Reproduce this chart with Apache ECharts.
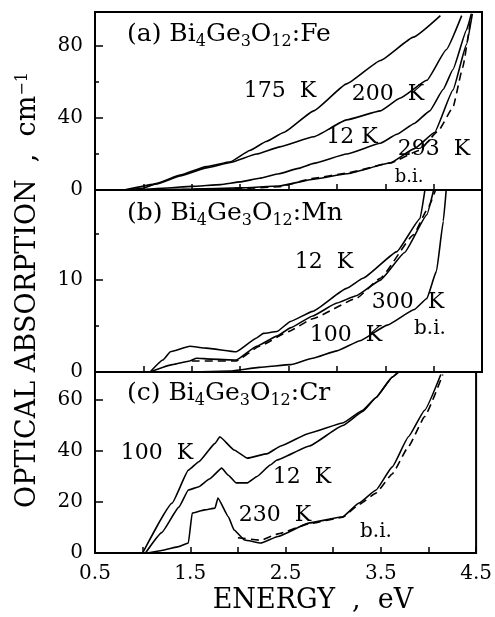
<!DOCTYPE html>
<html>
<head>
<meta charset="utf-8">
<script src="https://cdn.jsdelivr.net/npm/echarts@6.0.0/dist/echarts.min.js"></script>
<style>
html, body { margin: 0; padding: 0; background: #fff; }
#chart { width: 495px; height: 617px; }
</style>
</head>
<body>
<div id="chart"></div>
<script>
// x ticks (eV) - labels only on every other one
var xTicks = [0.5, 1.5, 2.5, 3.5, 4.5];

// (a) Bi4Ge3O12:Fe  [energy eV, absorption cm-1]
var fe175 = [[0.8,0],[1.0,1],[1.14,3.7],[1.38,8.3],[1.65,13],[1.9,15.7],[2.1,22],[2.27,27],[2.45,32],[2.76,44],[3.1,59],[3.45,72],[3.79,85],[4.07,97]];
var fe200 = [[0.8,0],[1.14,3.4],[1.38,7.8],[1.65,12.3],[1.9,15.3],[2.17,20],[2.41,24],[2.76,29.6],[3.1,39],[3.45,44],[3.65,51],[3.93,61],[4.13,78],[4.29,97]];
var fe12 = [[0.9,0],[1.2,1],[1.5,2],[1.8,3],[2.0,4.5],[2.2,6.5],[2.4,9],[2.6,12],[2.76,14.8],[3.1,20],[3.45,26],[3.62,31],[3.8,37],[3.96,44],[4.1,56],[4.2,67],[4.34,89],[4.39,98]];
var fe293 = [[1.0,0],[1.5,0.5],[2.0,1.2],[2.4,2.2],[2.76,6],[3.1,9],[3.55,15],[3.8,23],[4.01,32],[4.2,55.6],[4.34,81],[4.4,98]];
var feBi = [[1.0,0],[1.5,0.3],[2.0,0.8],[2.4,1.8],[2.76,6.5],[3.1,9.4],[3.55,15],[3.85,22],[4.05,33],[4.2,46],[4.3,68],[4.38,94]];

// (b) Bi4Ge3O12:Mn
var mn12 = [[1.07,0],[1.2,1.3],[1.28,2.2],[1.48,2.8],[1.65,2.6],[1.96,2.2],[2.17,3.7],[2.24,4.2],[2.38,4.4],[2.52,5.5],[2.75,6.6],[3.1,9.1],[3.27,10.2],[3.62,13.1],[3.86,16.7],[3.91,19.8]];
var mn300 = [[1.07,0],[1.3,0.8],[1.48,1.2],[1.55,1.5],[1.7,1.4],[1.96,1.3],[2.17,2.8],[2.38,3.9],[2.52,4.8],[2.75,6.1],[3.0,7.5],[3.2,8.3],[3.45,10],[3.7,13],[3.93,17.1],[4.0,19.8]];
var mnBi = [[1.5,1.2],[1.96,1.2],[2.2,2.8],[2.5,4.4],[2.75,5.8],[3.2,8.0],[3.45,10.2],[3.79,14.9],[3.95,18],[4.02,19.8]];
var mn100 = [[1.5,0],[1.9,0.1],[2.2,0.5],[2.52,0.8],[2.75,1.5],[3.0,2.3],[3.24,3.4],[3.52,5.1],[3.8,6.8],[3.93,8],[4.03,11],[4.1,16.4],[4.13,19.8]];

// (c) Bi4Ge3O12:Cr
var cr100 = [[1.0,0],[1.31,19.6],[1.48,32.5],[1.59,35.8],[1.76,43],[1.81,45.6],[1.96,40.4],[2.1,37.2],[2.31,39],[2.45,42],[2.75,47],[3.1,51],[3.31,56],[3.45,61],[3.62,69],[3.68,71]];
var cr12 = [[1.03,0],[1.2,8],[1.38,18],[1.48,24.7],[1.59,26],[1.7,29],[1.83,33.3],[1.9,30.5],[1.98,27.5],[2.1,27.5],[2.2,30],[2.34,34.5],[2.41,36.5],[2.75,42],[3.1,50],[3.31,55.5],[3.45,61],[3.62,69],[3.69,71]];
var cr230 = [[1.05,0],[1.2,1],[1.38,2.5],[1.48,3.9],[1.52,15.7],[1.65,16.9],[1.76,17.6],[1.79,21.6],[1.9,14.2],[1.96,9],[2.07,5.1],[2.24,3.9],[2.42,6.5],[2.75,11.8],[3.1,14.2],[3.27,19.6],[3.45,24.7],[3.62,33.8],[3.79,45.6],[3.96,56],[4.13,70]];
var crBi = [[2.0,6],[2.24,5],[2.42,7.5],[2.75,11.5],[3.1,14],[3.27,19],[3.45,23.5],[3.62,31],[3.79,41.7],[3.96,53.5],[4.15,70]];

var yMax = [99, 19.8, 71];
var yStep = [40, 10, 20];

var FONT = 'DejaVu Serif';
var chart = echarts.init(document.getElementById('chart'));

var grids = [
    { left: 95, right: 13, top: 12, height: 178 },
    { left: 95, right: 13, top: 190, height: 182 },
    { left: 95, right: 13, top: 372, height: 181 }
];
grids.forEach(function (g) {
    g.show = true;
    g.borderColor = '#000';
    g.borderWidth = 2;
    g.backgroundColor = 'transparent';
});

var xAxes = [], yAxes = [];
for (var i = 0; i < 3; i++) {
    xAxes.push({
        type: 'value', gridIndex: i, min: 0.5, max: 4.5, interval: 0.5,
        axisLine: { show: true, lineStyle: { color: '#000', width: 2 } },
        axisTick: { show: true, inside: true, length: 6, lineStyle: { color: '#000', width: 1.5 } },
        axisLabel: {
            show: i == 2, margin: 11, color: '#000', fontFamily: FONT, fontSize: 20,
            formatter: function (v) { return xTicks.indexOf(v) >= 0 ? v.toFixed(1) : ''; }
        },
        splitLine: { show: false }
    });
    yAxes.push({
        type: 'value', gridIndex: i, min: 0, max: yMax[i], interval: yStep[i],
        axisLine: { show: true, lineStyle: { color: '#000', width: 2 } },
        axisTick: { show: true, inside: true, length: 8, lineStyle: { color: '#000', width: 1.5 } },
        minorTick: { show: i < 2, splitNumber: 2, length: 4, lineStyle: { color: '#000', width: 1.5 } },
        axisLabel: { margin: 12, color: '#000', fontFamily: FONT, fontSize: 20, showMaxLabel: false },
        splitLine: { show: false }
    });
}

function line(idx, data, dashed) {
    return {
        type: 'line', xAxisIndex: idx, yAxisIndex: idx, data: data,
        showSymbol: false, smooth: 0.12, smoothMonotone: 'x', silent: true,
        lineStyle: { color: '#000', width: 1.6, type: dashed ? [8, 5] : 'solid' }
    };
}

var series = [
    line(0, fe175), line(0, fe200), line(0, fe12), line(0, fe293), line(0, feBi, true),
    line(1, mn12), line(1, mn300), line(1, mnBi, true), line(1, mn100),
    line(2, cr100), line(2, cr12), line(2, cr230), line(2, crBi, true)
];

// text labels
function txt(x, y, s, size, opts) {
    var st = { text: s, fill: '#000', fontFamily: FONT, fontSize: size || 22, align: 'center', verticalAlign: 'middle' };
    if (opts) for (var k in opts) st[k] = opts[k];
    return { type: 'text', x: x, y: y, style: st, z: 100 };
}
var sub = { s: { fontSize: 16, fontFamily: FONT, verticalAlign: 'bottom', lineHeight: 16 } };
function title(y, s) {
    return txt(127, y, s, 25, { align: 'left', lineHeight: 31, rich: sub });
}

var graphics = [
    title(34, '(a) Bi{s|4}Ge{s|3}O{s|12}:Fe'),
    title(213, '(b) Bi{s|4}Ge{s|3}O{s|12}:Mn'),
    title(393, '(c) Bi{s|4}Ge{s|3}O{s|12}:Cr'),
    txt(280, 91, '175  K'),
    txt(388, 94, '200  K'),
    txt(352, 137, '12 K'),
    txt(434, 149, '293  K'),
    txt(409, 177, 'b.i.', 18),
    txt(324, 262, '12  K'),
    txt(408, 302, '300  K'),
    txt(346, 335, '100  K'),
    txt(430, 329, 'b.i.', 20),
    txt(157, 453, '100  K'),
    txt(302, 477, '12  K'),
    txt(275, 515, '230  K'),
    txt(376, 532, 'b.i.', 20),
    txt(313, 601, 'ENERGY  ,  eV', 27),
    {
        type: 'text', x: 28, y: 290, rotation: Math.PI / 2, z: 100,
        style: {
            text: 'OPTICAL ABSORPTION  ,  cm{sup|\u22121}', fill: '#000', fontFamily: FONT, fontSize: 27,
            align: 'center', verticalAlign: 'middle',
            rich: { sup: { fontSize: 16, fontFamily: FONT, verticalAlign: 'top', lineHeight: 16 } }
        }
    }
];

chart.setOption({
    animation: false,
    backgroundColor: '#fff',
    grid: grids,
    xAxis: xAxes,
    yAxis: yAxes,
    series: series,
    graphic: graphics
});
</script>
</body>
</html>
